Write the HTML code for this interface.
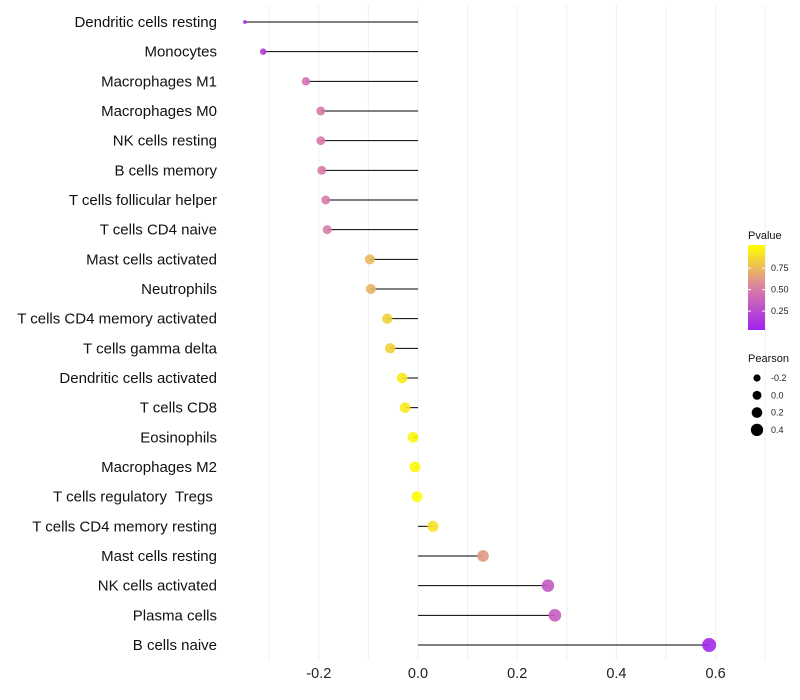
<!DOCTYPE html>
<html><head><meta charset="utf-8"><style>
body{margin:0;background:#fff;font-family:"Liberation Sans",sans-serif}
</style></head><body>
<svg id="chart" width="800" height="700" style="display:block"></svg>
<script>
const categories=["Dendritic cells resting","Monocytes","Macrophages M1","Macrophages M0","NK cells resting","B cells memory","T cells follicular helper","T cells CD4 naive","Mast cells activated","Neutrophils","T cells CD4 memory activated","T cells gamma delta","Dendritic cells activated","T cells CD8","Eosinophils","Macrophages M2","T cells regulatory  Tregs ","T cells CD4 memory resting","Mast cells resting","NK cells activated","Plasma cells","B cells naive"];
const pearson=[-0.349,-0.312,-0.226,-0.196,-0.196,-0.194,-0.186,-0.183,-0.097,-0.095,-0.062,-0.056,-0.032,-0.026,-0.010,-0.006,-0.002,0.030,0.131,0.262,0.276,0.587];
const pvalues=[0.08,0.15,0.42,0.47,0.47,0.47,0.48,0.49,0.72,0.70,0.82,0.82,0.92,0.92,0.96,0.98,0.99,0.88,0.60,0.30,0.32,0.04];
const xTicks=[-0.2,0,0.2,0.4,0.6];
const xTickLabels=["-0.2","0.0","0.2","0.4","0.6"];
const colorTicks=[0.25,0.5,0.75];
const sizeLegend=[-0.2,0,0.2,0.4];

const NS="http://www.w3.org/2000/svg",svg=document.getElementById('chart');
function mk(t,a,p){const e=document.createElementNS(NS,t);for(const k in a)e.setAttribute(k,a[k]);(p||svg).appendChild(e);return e;}
const xS=v=>418+v*496;
const yS=i=>22+i*(623/21);
function lerp(a,b,t){return a+(b-a)*t}
function col(p){const t=Math.max(0,Math.min(1,p));
 const stops=[[0,[160,32,240]],[0.5,[218,128,165]],[1,[255,255,0]]];
 let s0=stops[0],s1=stops[1];if(t>0.5){s0=stops[1];s1=stops[2];}
 const u=(t-s0[0])/(s1[0]-s0[0]);
 return `rgb(${s0[1].map((c,i)=>Math.round(lerp(c,s1[1][i],u))).join(',')})`;}
function rad(v){return 1.3+5.7*Math.pow(Math.max(0,(v+0.35)/0.94),0.33);}

for(let g=-0.3;g<=0.75;g+=0.1){const gx=xS(g);
 const l=mk('line',{x1:gx,x2:gx,y1:5,y2:660,stroke:'#f0f0f0','stroke-width':1});
 
 }
xTicks.forEach((t,i)=>{const tx=mk('text',{x:xS(t),y:678,'text-anchor':'middle','font-size':14.5,fill:'#222'});tx.textContent=xTickLabels[i];
 
 });
categories.forEach((c,i)=>{const y=yS(i);
 const lb=mk('text',{x:217,y:y+5,'text-anchor':'end','font-size':15,fill:'#111','xml:space':'preserve'});lb.style.whiteSpace='pre';lb.textContent=c;
 
 
 const sg=mk('line',{x1:xS(0),x2:xS(pearson[i]),y1:y,y2:y,stroke:'#000','stroke-width':1});
 
 
 const pt=mk('circle',{cx:xS(pearson[i]),cy:y,r:rad(pearson[i]),fill:col(pvalues[i]),'fill-opacity':0.9});
 
 
});
const defs=mk('defs',{});const lg=mk('linearGradient',{id:'pg',x1:0,y1:1,x2:0,y2:0},defs);
[0,0.5,1].forEach(o=>mk('stop',{offset:o,'stop-color':col(o)},lg));
const lt=mk('text',{x:748,y:239,'font-size':11,fill:'#111'});lt.textContent='Pvalue';


const bar=mk('rect',{x:748,y:245,width:17,height:85,fill:'url(#pg)'});


colorTicks.forEach(v=>{const y=330-(v-0.03)*(85/0.99);
 mk('line',{x1:748,x2:751,y1:y,y2:y,stroke:'#fff'});mk('line',{x1:762,x2:765,y1:y,y2:y,stroke:'#fff'});
 const t=mk('text',{x:771,y:y+3,'font-size':9,fill:'#222'});t.textContent=v.toFixed(2);
 
 });
const st=mk('text',{x:748,y:362,'font-size':11,fill:'#111'});st.textContent='Pearson';


sizeLegend.forEach((v,i)=>{const y=378+i*17.3;
 const c=mk('circle',{cx:757,cy:y,r:3.6+i*0.85,fill:'#000'});
 
 
 const t=mk('text',{x:771,y:y+3,'font-size':9,fill:'#222'});t.textContent=v.toFixed(1);
 
 });
</script>
</body></html>
